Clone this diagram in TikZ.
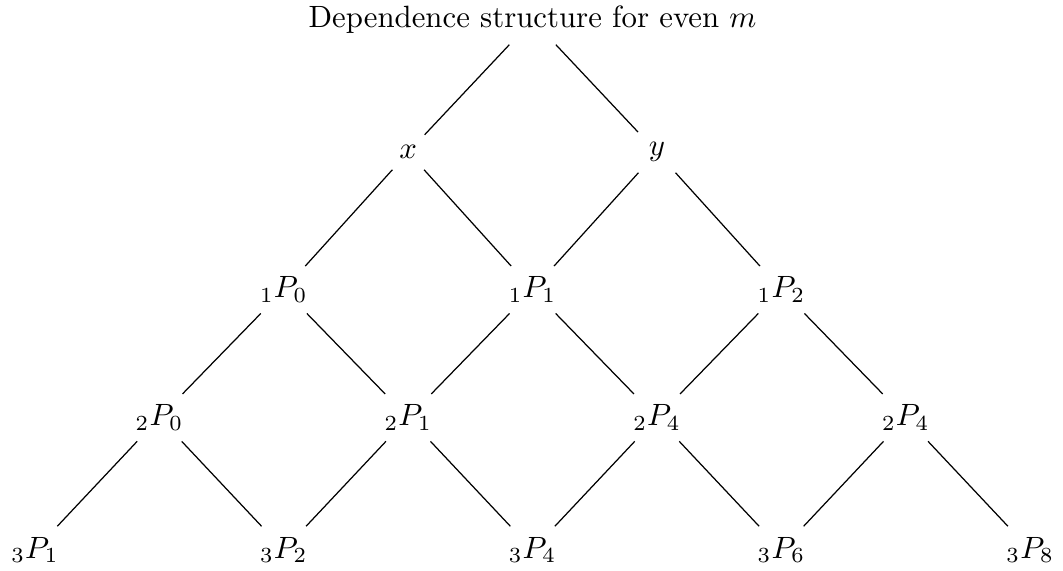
\documentclass[tikz,border=0pt]{standalone}
\usepackage{amsmath,amssymb}
\usepackage{tikz}

\begin{document}
\begin{tikzpicture}[scale=1.0]
\useasboundingbox (0,0) rectangle (12.135,6.518);
\node (top) at (6.08,6.29) {Dependence structure for even $m$};
\node (x) at (4.66,4.78) {$x$};
\node (y) at (7.50,4.78) {$y$};
\foreach \i in {0,1,2}{
  \node (a\i) at (3.24+2.84*\i,3.21) {${}_1P_{\i}$};
}
\foreach \i/\s in {0/0,1/1,2/4,3/4}{
  \node (b\i) at (1.82+2.84*\i,1.75) {${}_2P_{\s}$};
}
\foreach \i/\s in {0/1,1/2,2/4,3/6,4/8}{
  \node (c\i) at (0.40+2.84*\i,0.24) {${}_3P_{\s}$};
}
\draw (top) -- (x);
\draw (top) -- (y);
\draw (x) -- (a0);
\draw (x) -- (a1);
\draw (y) -- (a1);
\draw (y) -- (a2);
\foreach \i in {0,1,2}{
  \pgfmathtruncatemacro{\nxt}{\i+1}
  \draw (a\i) -- (b\i);
  \draw (a\i) -- (b\nxt);
}
\foreach \i in {0,...,3}{
  \pgfmathtruncatemacro{\nxt}{\i+1}
  \draw (b\i) -- (c\i);
  \draw (b\i) -- (c\nxt);
}
\end{tikzpicture}
\end{document}
